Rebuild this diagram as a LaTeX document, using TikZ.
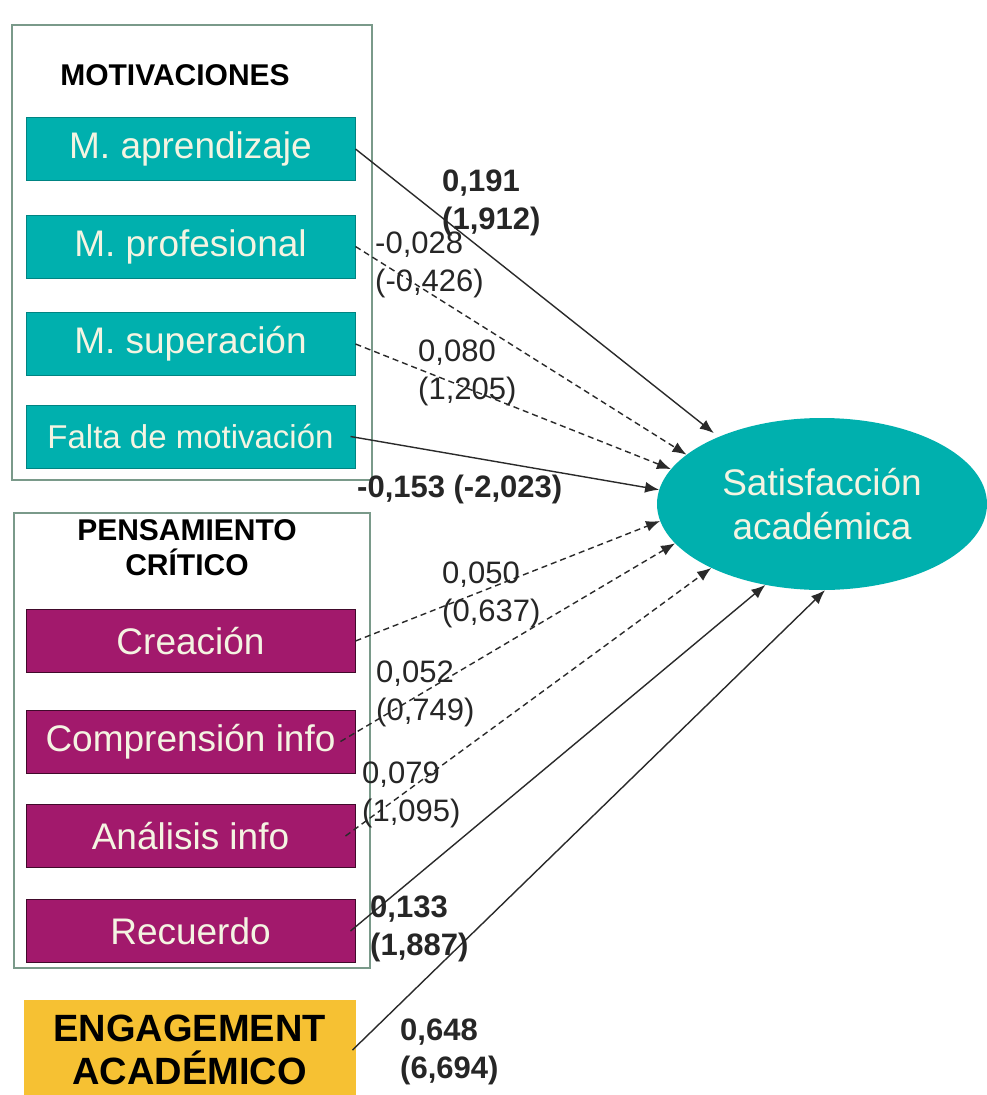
\documentclass[tikz,border=0pt]{standalone}
\usepackage{fontspec}
\setmainfont{Liberation Sans}
\usetikzlibrary{arrows.meta,shapes.geometric}
\definecolor{tealbox}{HTML}{00B0AE}
\definecolor{purplebox}{HTML}{A2196C}
\definecolor{goldbox}{HTML}{F6C133}
\definecolor{framec}{HTML}{7A9A8A}
\definecolor{boxtext}{HTML}{F4F4E2}
\definecolor{linec}{HTML}{2A2A2A}
\begin{document}
\begin{tikzpicture}[x=1pt,y=-1pt,
  group/.style={draw=framec, line width=1.5pt},
  basebox/.style={minimum width=329pt, minimum height=63pt, inner sep=0pt, text=boxtext, font=\fontsize{37}{44}\selectfont, line width=1pt},
  tbox/.style={basebox, fill=tealbox, draw=tealbox!75!black},
  pbox/.style={basebox, fill=purplebox, draw=purplebox!40!black},
  titlebox/.style={font=\bfseries\fontsize{30}{35}\selectfont, align=center, inner sep=0pt},
  lab/.style={anchor=west, align=left, inner sep=0pt, font=\fontsize{31}{38}\selectfont, text=black!85},
  blab/.style={lab, font=\bfseries\fontsize{31}{38}\selectfont},
  arr/.style={draw=linec, line width=1.4pt, -{Latex[length=14pt,width=11pt]}},
  darr/.style={arr, dash pattern=on 6pt off 4pt}
]
\useasboundingbox (0,0) rectangle (987,1095);
\fill[white] (0,0) rectangle (987,1095);

% group frames
\draw[group] (12,25) rectangle (372,480);
\draw[group] (14,513) rectangle (370,968);

% titles
\node[titlebox] (tmot) at (175,75) {MOTIVACIONES};
\node[titlebox] (tpen) at (187,548) {PENSAMIENTO\\CRÍTICO};

% motivation boxes
\node[tbox] (apr) at (190.5,149) {M. aprendizaje};
\node[tbox] (pro) at (190.5,246.5) {M. profesional};
\node[tbox] (sup) at (190.5,344) {M. superación};
\node[tbox, font=\fontsize{33}{40}\selectfont] (fal) at (190.5,436.5) {Falta de motivación};

% critical thinking boxes
\node[pbox] (cre) at (190.5,641) {Creación};
\node[pbox] (com) at (190.5,741.5) {Comprensión info};
\node[pbox] (ana) at (190.5,836) {Análisis info};
\node[pbox] (rec) at (190.5,931) {Recuerdo};

% engagement
\node[basebox, fill=goldbox, draw=goldbox, minimum width=331pt, minimum height=100pt, text=black, align=center, font=\bfseries\fontsize{38}{43}\selectfont] (eng) at (189.5,1050) {ENGAGEMENT\\ACADÉMICO};

% outcome
\node[ellipse, fill=tealbox, minimum width=330pt, minimum height=172pt, inner sep=0pt, text=boxtext, align=center, font=\fontsize{37}{44}\selectfont] (sat) at (822,504) {Satisfacción\\académica};

% connectors
\draw[arr, shorten >=6pt]  (apr.east) -- (sat.147.7);
\draw[darr] (pro.east) -- (sat.160);
\draw[darr] (sup.east) -- (sat.167);
\draw[arr]  ([xshift=-5pt]fal.east) -- (sat.175);
\draw[darr] (cre.east) -- (sat.186.5);
\draw[darr] ([xshift=-15pt]com.east) -- (sat.195);
\draw[darr] ([xshift=-10pt]ana.east) -- (sat.210);
\draw[arr]  ([xshift=-5pt]rec.east) -- (sat.235);
\draw[arr]  ([xshift=-3pt]eng.east) -- (sat.272);

% labels
\node[blab] (l1) at (442,203) {0,191\\(1,912)};
\node[lab]  (l2) at (375,265) {-0,028\\(-0,426)};
\node[lab]  (l3) at (418,373) {0,080\\(1,205)};
\node[blab] (l4) at (357,489) {-0,153 (-2,023)};
\node[lab]  (l5) at (442,595) {0,050\\(0,637)};
\node[lab]  (l6) at (376,694) {0,052\\(0,749)};
\node[lab]  (l7) at (362,795) {0,079\\(1,095)};
\node[blab] (l8) at (370,929) {0,133\\(1,887)};
\node[blab] (l9) at (400,1052) {0,648\\(6,694)};
\end{tikzpicture}
\end{document}
